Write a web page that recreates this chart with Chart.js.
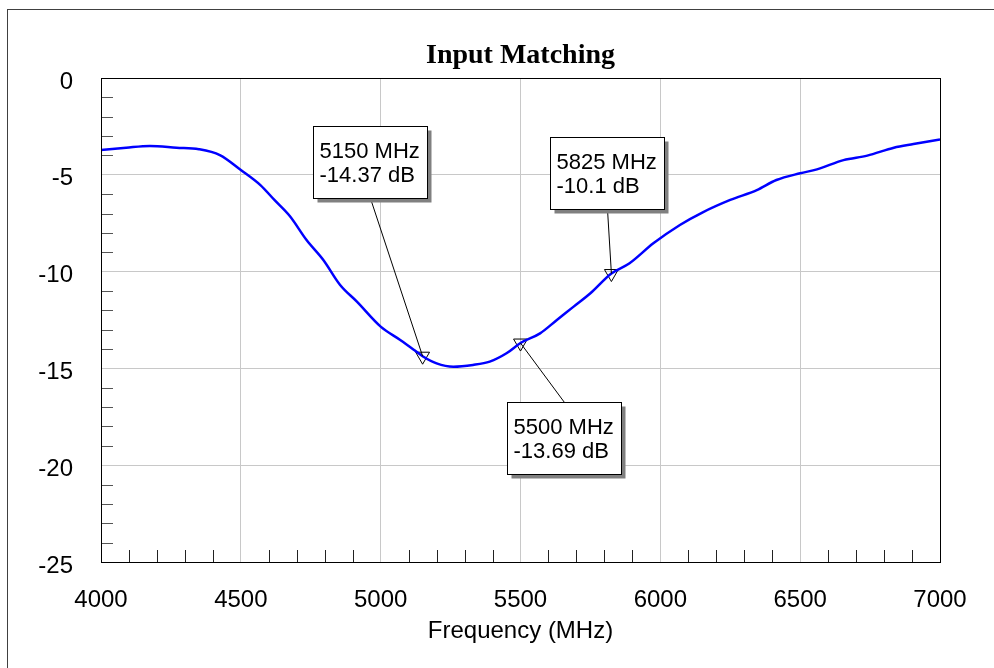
<!DOCTYPE html>
<html>
<head>
<meta charset="utf-8">
<script src="https://cdn.jsdelivr.net/npm/chart.js@4.4.1/dist/chart.umd.min.js"></script>
<style>
  html, body { margin: 0; padding: 0; background: #fff; }
  canvas { display: block; }
</style>
</head>
<body>
<canvas id="c" width="994" height="668"></canvas>
<script>
// ---- data ----
const freqMHz = [4000,4090,4175,4270,4350,4425,4500,4570,4620,4675,4735,4795,4855,4915,5000,5070,5120,5150,5200,5260,5330,5390,5450,5500,5570,5630,5690,5750,5825,5890,5975,6070,6150,6250,6345,6415,6500,6560,6655,6740,6835,6905,7000];
const s11dB   = [-3.72,-3.60,-3.51,-3.60,-3.68,-3.98,-4.75,-5.53,-6.30,-7.13,-8.37,-9.40,-10.69,-11.55,-12.84,-13.53,-14.05,-14.37,-14.74,-14.91,-14.82,-14.65,-14.22,-13.69,-13.19,-12.50,-11.81,-11.12,-10.10,-9.57,-8.54,-7.59,-6.95,-6.30,-5.79,-5.27,-4.92,-4.72,-4.24,-4.01,-3.60,-3.41,-3.17];
const markerFreq = [5150, 5500, 5825];
const markerDb   = [-14.37, -13.69, -10.1];
const xTickStep = 500;
const yTickStep = 5;
const chartTitle = 'Input Matching';
const xTitle = 'Frequency (MHz)';

const SANS = '"Liberation Sans", Arial, sans-serif';
const SERIF = '"Liberation Serif", "Times New Roman", serif';

// label box placement relative to each marker (pixels)
const boxOffsets = [[-110, -230], [-14, 59], [-61, -137]];

const curve = freqMHz.map((f, i) => ({x: f, y: s11dB[i]}));
const markers = markerFreq.map((f, i) => ({x: f, y: markerDb[i]}));

const decor = {
  id: 'decor',
  beforeDraw(chart) {
    const ctx = chart.ctx;
    ctx.save();
    ctx.fillStyle = '#fff';
    ctx.fillRect(0, 0, chart.width, chart.height);
    ctx.strokeStyle = '#404040';
    ctx.lineWidth = 1;
    ctx.strokeRect(7.5, 9.5, chart.width + 50, chart.height + 50);
    // title centred over the plot area
    const a = chart.chartArea;
    ctx.fillStyle = '#000';
    ctx.font = 'bold 28px ' + SERIF;
    ctx.textAlign = 'center';
    ctx.textBaseline = 'alphabetic';
    ctx.fillText(chartTitle, (a.left + a.right) / 2, 63);
    ctx.restore();
  },
  beforeDatasetsDraw(chart) {
    const {ctx, chartArea: a, scales: {x, y}} = chart;
    ctx.save();
    ctx.lineWidth = 1;
    ctx.strokeStyle = '#555';
    for (let v = y.min + 1; v < y.max; v += 1) {
      if (v % yTickStep === 0) continue;
      const py = Math.round(y.getPixelForValue(v)) + 0.5;
      ctx.beginPath(); ctx.moveTo(a.left, py); ctx.lineTo(a.left + 12, py); ctx.stroke();
    }
    ctx.strokeStyle = '#222';
    for (let v = x.min + 100; v < x.max; v += 100) {
      if (v % xTickStep === 0) continue;
      const px = Math.round(x.getPixelForValue(v)) + 0.5;
      ctx.beginPath(); ctx.moveTo(px, a.bottom); ctx.lineTo(px, a.bottom - 12); ctx.stroke();
    }
    ctx.restore();
  },
  afterDatasetsDraw(chart) {
    const {ctx, chartArea: a} = chart;
    ctx.save();
    ctx.strokeStyle = '#000';
    ctx.lineWidth = 1;
    ctx.strokeRect(Math.round(a.left) + 0.5, Math.round(a.top) + 0.5, Math.round(a.right - a.left), Math.round(a.bottom - a.top));
    ctx.restore();
  },
  afterDraw(chart) {
    const {ctx, scales: {x, y}} = chart;
    ctx.save();
    ctx.font = '22px ' + SANS;
    markerFreq.forEach((f, i) => {
      const px = x.getPixelForValue(f);
      const py = y.getPixelForValue(markerDb[i]);
      const l1 = f + ' MHz';
      const l2 = markerDb[i] + ' dB';
      const w = Math.ceil(Math.max(ctx.measureText(l1).width, ctx.measureText(l2).width)) + 13;
      const h = 72;
      const bx = Math.round(px + boxOffsets[i][0]) + 0.5;
      const by = Math.round(py + boxOffsets[i][1]) + 0.5;
      const lx = bx + w / 2;
      const ly = (py > by + h) ? by + h : by;
      ctx.strokeStyle = '#000';
      ctx.lineWidth = 1;
      ctx.beginPath(); ctx.moveTo(lx, ly); ctx.lineTo(px, py); ctx.stroke();
      ctx.fillStyle = '#808080';
      ctx.fillRect(bx + 4, by + 4, w, h);
      ctx.fillStyle = '#fff';
      ctx.fillRect(bx, by, w, h);
      ctx.strokeRect(bx, by, w, h);
      ctx.fillStyle = '#000';
      ctx.textAlign = 'left';
      ctx.textBaseline = 'middle';
      ctx.fillText(l1, bx + 6, by + 25);
      ctx.fillText(l2, bx + 6, by + 49);
    });
    ctx.restore();
  }
};

new Chart(document.getElementById('c'), {
  type: 'line',
  data: {
    datasets: [
      {
        data: curve,
        borderColor: '#0000ff',
        borderWidth: 2.5,
        pointRadius: 0,
        cubicInterpolationMode: 'monotone',
        fill: false,
        order: 0
      },
      {
        data: markers,
        showLine: false,
        pointStyle: 'triangle',
        rotation: 180,
        pointRadius: 8,
        pointBorderColor: '#000',
        pointBorderWidth: 1,
        pointBackgroundColor: 'rgba(0,0,0,0)',
        order: 1
      }
    ]
  },
  options: {
    responsive: false,
    devicePixelRatio: 1,
    animation: false,
    layout: { padding: { left: 0, top: 78, right: 54, bottom: 0 } },
    plugins: {
      legend: { display: false },
      tooltip: { enabled: false },
      title: { display: false }
    },
    scales: {
      x: {
        type: 'linear',
        min: 4000, max: 7000,
        ticks: { stepSize: xTickStep, autoSkip: false, maxRotation: 0, padding: 24, color: '#000', font: { family: SANS, size: 24 }, callback: v => String(v) },
        grid: { color: '#c8c8c8', lineWidth: 1, drawTicks: false },
        border: { color: '#000', width: 1 },
        title: { display: true, text: xTitle, color: '#000', font: { family: SANS, size: 24 }, padding: { top: 0, bottom: 22 } },
        afterFit(s) { s.height = 106; }
      },
      y: {
        min: -25, max: 0,
        ticks: { stepSize: yTickStep, padding: 28, labelOffset: 4, color: '#000', font: { family: SANS, size: 24 }, callback: v => String(v) },
        grid: { color: '#c8c8c8', lineWidth: 1, drawTicks: false },
        border: { color: '#000', width: 1 },
        afterFit(s) { s.width = 101; }
      }
    }
  },
  plugins: [decor]
});
</script>
</body>
</html>
